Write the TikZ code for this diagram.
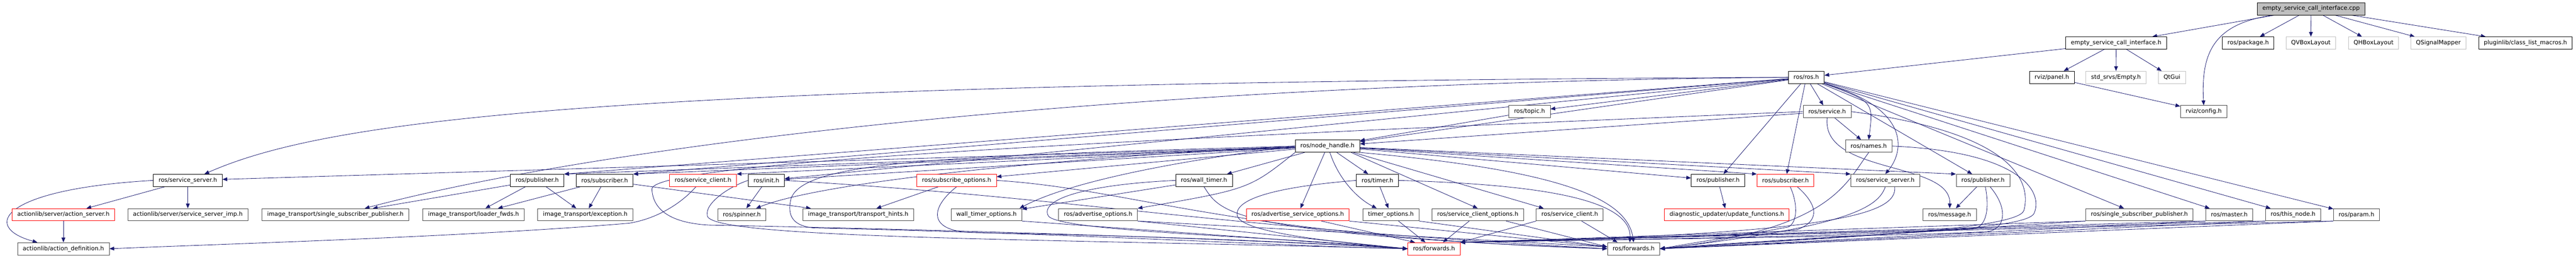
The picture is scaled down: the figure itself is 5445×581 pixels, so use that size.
\documentclass[tikz,border=0pt]{standalone}
\usepackage{fontspec}
\setmainfont{DejaVu Sans}
\usetikzlibrary{arrows.meta}
\pgfdeclarelayer{background}
\pgfsetlayers{background,main}
\definecolor{edgeblue}{RGB}{25,25,112}
\tikzset{
  hdr/.style={draw=black, fill=white, line width=0.9pt, minimum height=26pt,
    inner xsep=11pt, inner ysep=0pt, font=\fontsize{12.4}{14}\selectfont},
  hdrdim/.style={hdr, draw=black!72},
  hdrred/.style={hdr, draw=red},
  hdrext/.style={hdr, draw=black!25},
  hdrtop/.style={hdr, fill=black!25},
  dep/.style={draw=edgeblue, line width=0.9pt, -{Triangle[length=10pt,width=8pt]}},
}
\begin{document}
\begin{tikzpicture}[x=1pt,y=-1pt]
    \useasboundingbox (0,0) rectangle (5445,581);
    % file and its direct includes
    \node[hdrtop] (cpp) at (4885,18.5) {empty\_service\_call\_interface.cpp};
    \node[hdr] (escih) at (4473,91) {empty\_service\_call\_interface.h};
    \node[hdr] (pkg) at (4752,91) {ros/package.h};
    \node[hdrext] (qvbox) at (4884.5,91) {QVBoxLayout};
    \node[hdrext] (qhbox) at (5017,91) {QHBoxLayout};
    \node[hdrext] (qsig) at (5154,91) {QSignalMapper};
    \node[hdr] (plugin) at (5338,91) {pluginlib/class\_list\_macros.h};
    \node[hdr] (rosh) at (3818,163.5) {ros/ros.h};
    \node[hdr] (panel) at (4337,163.5) {rviz/panel.h};
    \node[hdrext] (empty) at (4472.6,163.5) {std\_srvs/Empty.h};
    \node[hdrext] (qtgui) at (4591,163.5) {QtGui};
    \node[hdrdim] (topic) at (3233,236) {ros/topic.h};
    \node[hdrdim] (service) at (3862,236) {ros/service.h};
    \node[hdrdim] (config) at (4658,236) {rviz/config.h};
    \node[hdr] (nh) at (2806,309) {ros/node\_handle.h};
    \node[hdrdim] (names) at (3950,309) {ros/names.h};
    % row 5
    \node[hdr] (ssL) at (397,381.5) {ros/service\_server.h};
    \node[hdr] (pubL) at (1135.5,381.5) {ros/publisher.h};
    \node[hdr] (subL) at (1278,381.5) {ros/subscriber.h};
    \node[hdrred] (scRed) at (1486,381.5) {ros/service\_client.h};
    \node[hdr] (init) at (1620,381.5) {ros/init.h};
    \node[hdrred] (subopts) at (2022,381.5) {ros/subscribe\_options.h};
    \node[hdr] (wtimer) at (2545,381.5) {ros/wall\_timer.h};
    \node[hdr] (timer) at (2911.5,381.5) {ros/timer.h};
    \node[hdr] (pubM) at (3631.5,381.5) {ros/publisher.h};
    \node[hdrred] (subR) at (3774,381.5) {ros/subscriber.h};
    \node[hdrdim] (ssR) at (3985,381.5) {ros/service\_server.h};
    \node[hdrdim] (pubR) at (4191.5,381.5) {ros/publisher.h};
    % row 6
    \node[hdrred] (asrv) at (134,454) {actionlib/server/action\_server.h};
    \node[hdrdim] (ssimp) at (397,454) {actionlib/server/service\_server\_imp.h};
    \node[hdrdim] (itssp) at (709,454) {image\_transport/single\_subscriber\_publisher.h};
    \node[hdrdim] (ldr) at (1001,454) {image\_transport/loader\_fwds.h};
    \node[hdrdim] (exc) at (1237,454) {image\_transport/exception.h};
    \node[hdrdim] (spin) at (1568,454) {ros/spinner.h};
    \node[hdrdim] (hints) at (1814,454) {image\_transport/transport\_hints.h};
    \node[hdrdim] (wtopts) at (2085,454) {wall\_timer\_options.h};
    \node[hdrdim] (advopts) at (2321,454) {ros/advertise\_options.h};
    \node[hdrred] (advsrv) at (2743,454) {ros/advertise\_service\_options.h};
    \node[hdrdim] (topts) at (2940,454) {timer\_options.h};
    \node[hdrdim] (scopts) at (3123.5,454) {ros/service\_client\_options.h};
    \node[hdrdim] (scB) at (3318,454) {ros/service\_client.h};
    \node[hdrred] (updfn) at (3650,454) {diagnostic\_updater/update\_functions.h};
    \node[hdrdim] (msg) at (4121,454) {ros/message.h};
    \node[hdrdim] (sspub) at (4522,454) {ros/single\_subscriber\_publisher.h};
    \node[hdrdim] (master) at (4712,454) {ros/master.h};
    \node[hdrdim] (thisn) at (4847,454) {ros/this\_node.h};
    \node[hdrdim] (param) at (4981,454) {ros/param.h};
    % row 7
    \node[hdrdim] (adef) at (134,526) {actionlib/action\_definition.h};
    \node[hdrred] (fwdR) at (3031,526) {ros/forwards.h};
    \node[hdrdim] (fwdB) at (3453,526) {ros/forwards.h};

    \begin{pgfonlayer}{background}
    \draw[dep] (cpp) -- (escih);
    \draw[dep] ([xshift=-80pt]cpp.south) .. controls (4680,50) and (4652,110) .. (config.north);
    \draw[dep] (cpp) -- (pkg);
    \draw[dep] (cpp) -- (qvbox);
    \draw[dep] (cpp) -- (qhbox);
    \draw[dep] (cpp) -- (qsig);
    \draw[dep] (cpp) -- (plugin);
    \draw[dep] (escih) -- (rosh);
    \draw[dep] (escih) -- (panel);
    \draw[dep] (escih) -- (empty);
    \draw[dep] (escih) -- (qtgui);
    \draw[dep] (panel) -- (config);
    % ros/ros.h
    \draw[dep] (rosh) -- (topic);
    \draw[dep] (rosh) -- (service);
    \draw[dep] (rosh) -- (nh);
    \draw[dep] (rosh.south east) .. controls (3960,215) .. (names.north);
    \draw[dep] (rosh.south east) .. controls (4040,230) and (4025,320) .. (ssR.north);
    \draw[dep] (rosh) -- (pubR);
    \draw[dep] (rosh) -- (pubM);
    \draw[dep] (rosh) -- (subR);
    \draw[dep] (rosh) -- (sspub);
    \draw[dep] (rosh) -- (master);
    \draw[dep] (rosh) -- (thisn);
    \draw[dep] (rosh) -- (param);
    \draw[dep] (rosh) -- (init);
    \draw[dep] (rosh) -- (subL.north east);
    \draw[dep] (rosh) -- (pubL.north east);
    \draw[dep] (rosh.west) .. controls (1300,175) and (700,250) .. ([xshift=35pt]ssL.north);
    \draw[dep] (rosh.west) .. controls (2400,175) and (1300,300) .. ([xshift=62pt]itssp.north);
    % ros/service.h, ros/topic.h, ros/names.h
    \draw[dep] (service) -- (nh);
    \draw[dep] (service) -- (names);
    \draw[dep] (service.south) .. controls (3850,370) and (4125,340) .. (msg.north);
    \draw[dep] (service.east) .. controls (4250,280) and (4295,380) .. (4278,445) .. controls (4265,490) and (3800,505) .. (fwdB.east);
    \draw[dep] (service.west) .. controls (2500,290) and (1375,340) .. (1378,400) .. controls (1380,445) and (1420,472) .. (1500,476) .. controls (2300,492) and (2800,515) .. (fwdR.west);
    \draw[dep] (topic) -- (nh);
    \draw[dep] (names.east) .. controls (4260,320) and (4320,400) .. (4300,450) .. controls (4285,500) and (3700,500) .. (fwdR.north east);
    \draw[dep] (names.south) .. controls (3900,390) and (3870,485) .. (fwdB.east);
    % ros/node_handle.h
    \draw[dep] (nh) -- (ssL);
    \draw[dep] (nh) -- (pubL.north east);
    \draw[dep] (nh) -- (subL.north east);
    \draw[dep] (nh) -- (scRed.north east);
    \draw[dep] (nh) -- (init);
    \draw[dep] (nh) -- (subopts);
    \draw[dep] (nh) -- (wtimer);
    \draw[dep] (nh) -- (timer);
    \draw[dep] (nh) -- (pubM);
    \draw[dep] (nh) -- (subR.north west);
    \draw[dep] (nh) -- (ssR.north west);
    \draw[dep] (nh) -- (pubR.north west);
    \draw[dep] (nh) -- (advsrv);
    \draw[dep] ([xshift=5pt]nh.south) .. controls (2830,380) and (2870,420) .. ([xshift=-30pt]topts.north);
    \draw[dep] ([xshift=50pt]nh.south) -- (scopts.north);
    \draw[dep] ([xshift=55pt]nh.south) -- ([xshift=-55pt]scB.north);
    \draw[dep] (nh.west) .. controls (2300,330) and (1750,380) .. ([xshift=30pt]spin.north);
    \draw[dep] (nh.west) .. controls (2450,345) and (2250,390) .. ([xshift=70pt]wtopts.north);
    \draw[dep] (nh.south west) .. controls (2640,400) .. (advopts.north east);
    \draw[dep] (nh.south east) .. controls (3300,360) and (3440,420) .. (fwdB.north);
    \draw[dep] (nh.west) .. controls (2000,330) and (1700,340) .. (1672,420) .. controls (1662,460) and (1680,478) .. (1720,482) .. controls (2300,495) and (2700,520) .. (fwdR.west);
    % second level
    \draw[dep] (ssL) -- (asrv);
    \draw[dep] (ssL) -- (ssimp);
    \draw[dep] (ssL.west) .. controls (0,400) and (-40,480) .. ([xshift=-55pt]adef.north);
    \draw[dep] (asrv) -- (adef);
    \draw[dep] (pubL) -- (itssp);
    \draw[dep] (pubL) -- (ldr);
    \draw[dep] (pubL) -- (exc);
    \draw[dep] (subL) -- (ldr);
    \draw[dep] (subL) -- (exc);
    \draw[dep] ([yshift=-8pt]subL.east) -- ([xshift=-100pt]hints.north);
    \draw[dep] ([xshift=-15pt]scRed.south) .. controls (1440,430) and (1390,462) .. (1330,472) .. controls (1000,500) and (500,515) .. (adef.east);
    \draw[dep] (init) -- (spin);
    \draw[dep] (init.west) .. controls (1540,395) and (1490,430) .. (1495,455) .. controls (1490,505) and (2200,505) .. (fwdR.west);
    \draw[dep] (init.east) .. controls (2300,420) and (2550,480) .. (fwdB.west);
    \draw[dep] (subopts) -- (hints);
    \draw[dep] (subopts.south) .. controls (1965,440) and (1960,490) .. (2060,492) .. controls (2500,500) and (2800,515) .. (fwdR.west);
    \draw[dep] (subopts.east) .. controls (2400,400) and (2600,500) .. (fwdB.west);
    \draw[dep] (wtimer) -- (wtopts);
    \draw[dep] (wtimer.west) .. controls (2300,390) and (2200,420) .. (2215,455) .. controls (2225,490) and (2700,500) .. (fwdR.west);
    \draw[dep] (wtimer.south) .. controls (2580,450) and (2600,495) .. (fwdB.west);
    \draw[dep] (timer) -- (topts);
    \draw[dep] (timer.west) .. controls (2700,395) and (2610,420) .. (2615,455) .. controls (2620,490) and (2800,510) .. (fwdR.west);
    \draw[dep] (timer.east) .. controls (3250,390) and (3450,420) .. ([xshift=-8pt]fwdB.north);
    \draw[dep] (pubM) -- (updfn);
    \draw[dep] ([xshift=10pt]subR.south) .. controls (3800,430) and (3800,470) .. (3780,480) .. controls (3700,495) and (3600,510) .. (fwdB.east);
    \draw[dep] ([xshift=25pt]subR.south) .. controls (3850,440) and (3840,470) .. (3800,485) .. controls (3700,500) and (3300,505) .. (fwdR.north east);
    \draw[dep] (ssR.south) .. controls (3970,440) and (3900,480) .. (fwdB.east);
    \draw[dep] ([xshift=20pt]ssR.south) .. controls (4010,450) and (3900,495) .. (fwdR.north east);
    \draw[dep] (pubR) -- (msg);
    \draw[dep] ([xshift=5pt]pubR.south) .. controls (4205,440) and (4200,480) .. (4170,484) .. controls (4000,495) and (3700,510) .. (fwdB.east);
    \draw[dep] ([xshift=15pt]pubR.south) .. controls (4245,440) and (4240,485) .. (4200,490) .. controls (4000,500) and (3500,505) .. (fwdR.north east);
    % into ros/forwards.h
    \draw[dep] (wtopts.south east) -- (fwdR.west);
    \draw[dep] (advopts.south east) -- (fwdR.west);
    \draw[dep] (advopts.south east) -- ([yshift=4pt]fwdB.west);
    \draw[dep] ([xshift=50pt]advsrv.south) -- ([xshift=-40pt]fwdR.north);
    \draw[dep] (advsrv.south east) -- ([yshift=4pt]fwdB.west);
    \draw[dep] ([xshift=16pt]topts.south) -- ([xshift=-18pt]fwdR.north);
    \draw[dep] (topts.south east) -- ([yshift=4pt]fwdB.west);
    \draw[dep] ([xshift=-18pt]scopts.south) -- ([xshift=19pt]fwdR.north);
    \draw[dep] ([xshift=60pt]scopts.south) -- ([yshift=4pt]fwdB.west);
    \draw[dep] (scB.south west) -- (fwdR.north east);
    \draw[dep] ([xshift=25pt]scB.south) -- ([xshift=-34pt]fwdB.north);
    \draw[dep] (sspub.south west) -- (fwdB.east);
    \draw[dep] (sspub.south west) -- (fwdR.north east);
    \draw[dep] (master.south west) -- (fwdB.east);
    \draw[dep] (master.south west) -- (fwdR.north east);
    \draw[dep] (thisn.south west) -- (fwdB.east);
    \draw[dep] (thisn.south west) -- (fwdR.north east);
    \draw[dep] (param.south west) -- (fwdB.east);
    \draw[dep] (param.south west) -- (fwdR.north east);
    \end{pgfonlayer}
\end{tikzpicture}
\end{document}
